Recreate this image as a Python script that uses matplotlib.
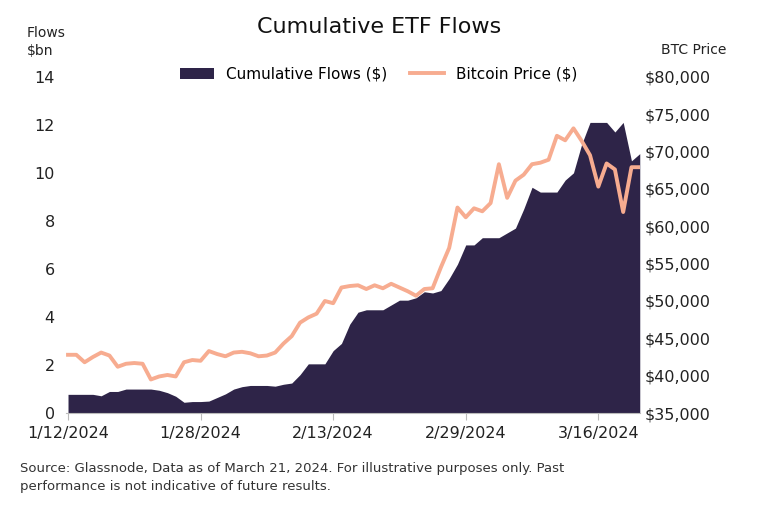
import numpy as np
import pandas as pd
import matplotlib
matplotlib.use("Agg")
import matplotlib.pyplot as plt
import matplotlib.dates as mdates
from matplotlib.ticker import FuncFormatter

# ─── 数据 ───
dates = pd.date_range("2024-01-12", "2024-03-21", freq="D")
flows = [0.78, 0.78, 0.78, 0.78, 0.72, 0.9, 0.9, 1.0, 1.0, 1.0,
         1.0, 0.95, 0.85, 0.7, 0.45, 0.48, 0.48, 0.5, 0.65, 0.8,
         1.0, 1.1, 1.15, 1.15, 1.15, 1.12, 1.2, 1.25, 1.6, 2.05,
         2.05, 2.05, 2.6, 2.9, 3.7, 4.2, 4.3, 4.3, 4.3, 4.5,
         4.7, 4.7, 4.8, 5.05, 5.0, 5.1, 5.6, 6.2, 7.0, 7.0,
         7.3, 7.3, 7.3, 7.5, 7.7, 8.5, 9.4, 9.2, 9.2, 9.2,
         9.7, 10.0, 11.2, 12.1, 12.1, 12.1, 11.7, 12.1, 10.5, 10.8]
btc = [42.8, 42.8, 41.8, 42.5, 43.1, 42.7, 41.2, 41.6, 41.7, 41.6,
       39.5, 39.9, 40.1, 39.9, 41.8, 42.1, 42.0, 43.3, 42.9, 42.6,
       43.1, 43.2, 43.0, 42.6, 42.7, 43.1, 44.3, 45.3, 47.1, 47.8,
       48.3, 50.0, 49.7, 51.8, 52.0, 52.1, 51.6, 52.1, 51.7, 52.3,
       51.8, 51.3, 50.7, 51.6, 51.7, 54.5, 57.1, 62.5, 61.2, 62.4,
       62.0, 63.1, 68.3, 63.8, 66.1, 66.9, 68.3, 68.5, 68.9, 72.1,
       71.5, 73.1, 71.4, 69.5, 65.3, 68.4, 67.6, 61.9, 67.9, 67.9]
btc = [v * 1000 for v in btc]
tick_dates = pd.to_datetime(["2024-01-12", "2024-01-28", "2024-02-13", "2024-02-29", "2024-03-16"])

NAVY = "#2E2448"
SALMON = "#F7AC90"

fig = plt.figure(figsize=(7.58, 5.05), dpi=100)
ax = fig.add_axes([0.087, 0.182, 0.757, 0.666])
ax.fill_between(dates, flows, 0, color=NAVY, linewidth=0, label="Cumulative Flows ($)")
ax.set_ylim(0, 14)
ax.set_yticks(range(0, 15, 2))
ax.set_xlim(dates[0] - pd.Timedelta(hours=6), dates[-1])
ax.set_xticks(tick_dates)
ax.xaxis.set_major_formatter(FuncFormatter(lambda x, p: f"{mdates.num2date(x).month}/{mdates.num2date(x).day}/{mdates.num2date(x).year}"))

ax2 = ax.twinx()
ax2.plot(dates, btc, color=SALMON, linewidth=2.8, label="Bitcoin Price ($)")
ax2.set_ylim(35000, 80000)
ax2.set_yticks(range(35000, 80001, 5000))
ax2.yaxis.set_major_formatter(FuncFormatter(lambda v, p: f"${v:,.0f}"))

for a in (ax, ax2):
    for s in a.spines.values():
        s.set_visible(False)
    a.tick_params(labelsize=11.5, colors="#222222", length=0)
ax.spines["bottom"].set_visible(True)
ax.spines["bottom"].set_color("#bbbbbb")
ax.tick_params(axis="x", length=5, color="#bbbbbb", pad=4)
ax.tick_params(axis="y", pad=8)

fig.text(0.5, 0.935, "Cumulative ETF Flows", ha="center", fontsize=16, color="#111111")
fig.text(0.035, 0.948, "Flows\n$bn", fontsize=10, va="top", color="#222222", linespacing=1.3)
fig.text(0.872, 0.9, "BTC Price", fontsize=10, va="center", color="#222222")

h1, l1 = ax.get_legend_handles_labels()
h2, l2 = ax2.get_legend_handles_labels()
fig.legend(h1 + h2, l1 + l2, loc="center", bbox_to_anchor=(0.5, 0.853), ncol=2,
           frameon=False, fontsize=11, handlelength=2.2, columnspacing=1.5)

fig.text(0.027, 0.085, "Source: Glassnode, Data as of March 21, 2024. For illustrative purposes only. Past\n"
         "performance is not indicative of future results.", fontsize=9.5, color="#333333",
         va="top", linespacing=1.5)

fig.savefig("out.png", dpi=100)
